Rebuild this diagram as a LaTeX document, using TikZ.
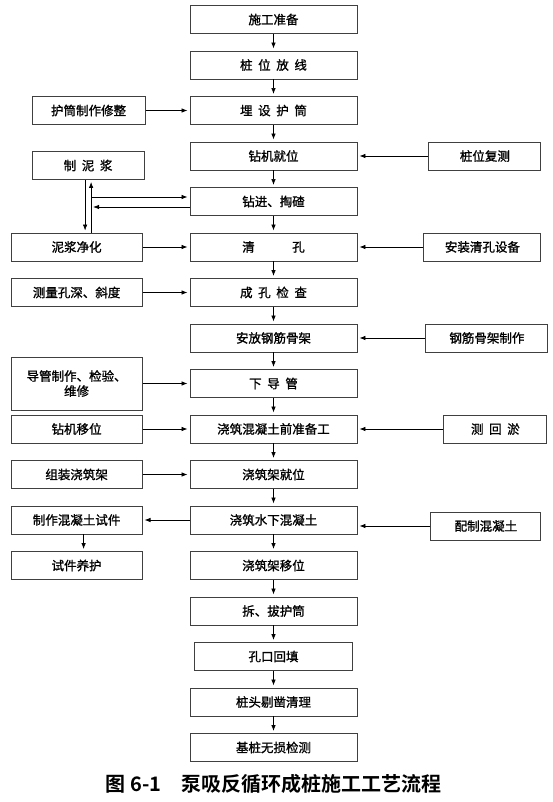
\documentclass[tikz,border=0pt]{standalone}
\usepackage{fontspec}
\setmainfont{Noto Sans CJK SC}[BoldFont={Noto Sans CJK SC Bold}]
\newfontfamily\boxfont{Noto Sans CJK SC}[FakeBold=1.2]
\usetikzlibrary{arrows.meta,positioning}
\newcommand{\gp}{\hspace{0.45em}}

\begin{document}
\begin{tikzpicture}[
    node distance=16.6pt and 47pt,
    mainbox/.style={rectangle, draw=black!75, line width=0.9pt, minimum height=28pt,
                    minimum width=167pt, align=center, inner sep=2pt,
                    font=\boxfont\fontsize{12.5}{15}\selectfont},
    sidebox/.style={mainbox, minimum width=131pt},
    arr/.style={-{Latex[length=6pt,width=4.5pt]}, line width=0.7pt, shorten >=2pt},
    capt/.style={font=\fontsize{20}{22}\selectfont\bfseries},
]
\useasboundingbox (0,0) rectangle (553pt,-802pt);

% Main flow
\node[mainbox] (prep) at (273.5pt,-19.5pt) {施工准备};
\node[mainbox, below=of prep] (layout) {桩\gp 位\gp 放\gp 线};
\node[mainbox, below=of layout] (casing) {埋\gp 设\gp 护\gp 筒};
\node[mainbox, below=of casing] (rig) {钻机就位};
\node[mainbox, below=of rig] (drill) {钻进、掏碴};
\node[mainbox, below=of drill] (clean) {清\hspace{3em}孔};
\node[mainbox, below=of clean] (check) {成\gp 孔\gp 检\gp 查};
\node[mainbox, below=of check] (cage) {安放钢筋骨架};
\node[mainbox, below=of cage] (tremie) {下\gp 导\gp 管};
\node[mainbox, below=of tremie] (ready) {浇筑混凝土前准备工};
\node[mainbox, below=of ready] (frame) {浇筑架就位};
\node[mainbox, below=of frame] (pour) {浇筑水下混凝土};
\node[mainbox, below=of pour] (shift) {浇筑架移位};
\node[mainbox, below=of shift] (pull) {拆、拔护筒};
\node[mainbox, below=of pull, minimum width=158pt] (fill) {孔口回填};
\node[mainbox, below=of fill] (trim) {桩头剔凿清理};
\node[mainbox, below=of trim] (ndt) {基桩无损检测};

% Left column
\node[sidebox, minimum width=113pt, left=44pt of casing] (casingmk) {护筒制作修整};
\node[sidebox, minimum width=112pt, left=45pt of rig, yshift=-9.5pt] (slurry) {制\gp 泥\gp 浆};
\node[sidebox, left=of clean] (purify) {泥浆净化};
\node[sidebox, left=of check] (measure) {测量孔深、斜度};
\node[sidebox, minimum height=53pt, left=of tremie] (tremiemk) {导管制作、检验、\\维修};
\node[sidebox, left=of ready] (rigmove) {钻机移位};
\node[sidebox, left=of frame] (frameasm) {组装浇筑架};
\node[sidebox, left=of pour] (sample) {制作混凝土试件};
\node[sidebox, below=of sample] (cure) {试件养护};

% Right column
\node[sidebox, minimum width=112pt, right=71pt of rig] (recheck) {桩位复测};
\node[sidebox, minimum width=117pt, right=66pt of clean] (cleaneq) {安装清孔设备};
\node[sidebox, minimum width=122pt, right=68pt of cage] (cagemk) {钢筋骨架制作};
\node[sidebox, minimum width=103pt, right=86pt of ready] (silt) {测\gp 回\gp 淤};
\node[sidebox, minimum width=110pt, right=73pt of pour, yshift=-6pt] (mix) {配制混凝土};

% Caption
\node[capt, below=9pt of ndt] (caption) {图 6-1\hspace{1em}泵吸反循环成桩施工工艺流程};

% Arrows
\foreach \a/\b in {prep/layout, layout/casing, casing/rig, rig/drill, drill/clean,
                   clean/check, check/cage, cage/tremie, tremie/ready, ready/frame,
                   frame/pour, pour/shift, shift/pull, pull/fill, fill/trim, trim/ndt}
  \draw[arr] (\a) -- (\b);

\foreach \a/\b in {casingmk/casing, purify/clean, measure/check, tremiemk/tremie,
                   rigmove/ready, frameasm/frame, recheck/rig, cleaneq/clean,
                   cagemk/cage, silt/ready, pour/sample}
  \draw[arr] (\a) -- (\b);
\draw[arr] (mix.west) -- (mix.west -| pour.east);
\draw[arr] ([xshift=7pt]sample.south) -- ([xshift=7pt]cure.north);

% Slurry loop
\coordinate (dn) at ([xshift=-3pt]slurry.south);
\coordinate (up) at ([xshift=3pt]slurry.south);
\coordinate (feed) at ([yshift=4.5pt]drill.west);
\coordinate (back) at ([yshift=-5.5pt]drill.west);
\draw[arr] (dn) -- (dn |- purify.north);
\draw[arr] (up |- purify.north) -- (up);
\draw[arr] (feed -| up) -- (feed);
\draw[arr] (back) -- (back -| up);

\end{tikzpicture}
\end{document}
